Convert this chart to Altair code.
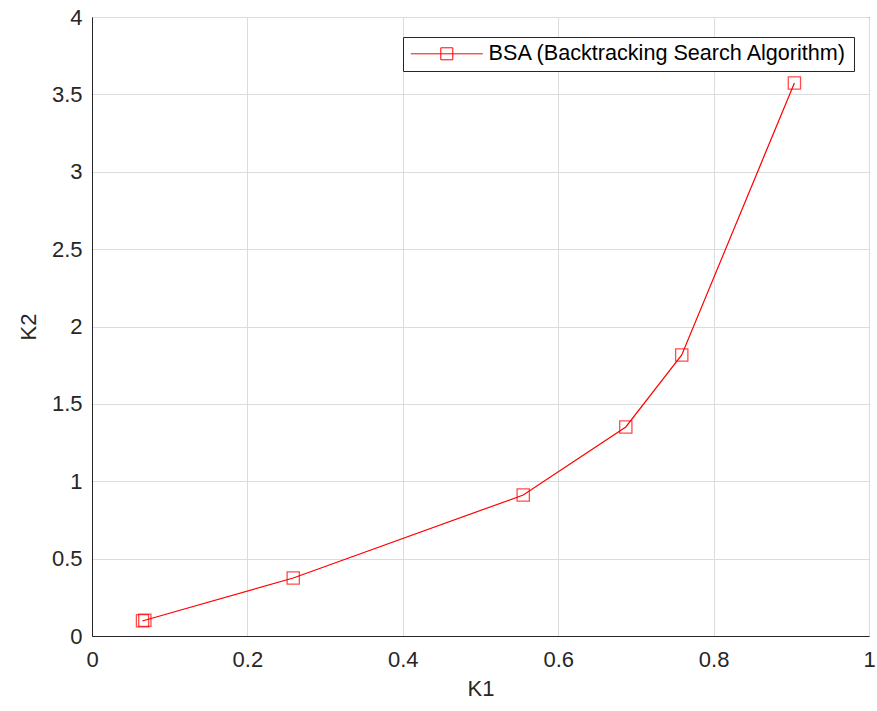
import altair as alt
import pandas as pd

series_name = "BSA (Backtracking Search Algorithm)"
k1 = [0.065, 0.068, 0.259, 0.555, 0.687, 0.759, 0.904]
k2 = [0.098, 0.102, 0.375, 0.911, 1.351, 1.816, 3.574]
x_ticks = [0, 0.2, 0.4, 0.6, 0.8, 1]
y_ticks = [0, 0.5, 1, 1.5, 2, 2.5, 3, 3.5, 4]

df = pd.DataFrame({"K1": k1, "K2": k2, "series": [series_name] * len(k1)})

FONT = "Liberation Sans"
DARK = "#262626"
RED = "#ff0000"

x = alt.X("K1:Q", title="K1", scale=alt.Scale(domain=[0, 1], nice=False, zero=False),
          axis=alt.Axis(values=x_ticks, format="~g", labelFlush=False))
y = alt.Y("K2:Q", title="K2", scale=alt.Scale(domain=[0, 4], nice=False, zero=False),
          axis=alt.Axis(values=y_ticks, format="~g", labelFlush=False))
color = alt.Color("series:N", scale=alt.Scale(domain=[series_name], range=[RED]),
                  legend=alt.Legend(title=None, orient="none", legendX=311, legendY=20,
                                    symbolType="M-3.6,0H3.6M-0.6,-0.6H0.6V0.6H-0.6Z",
                                    symbolSize=400, symbolStrokeWidth=1,
                                    symbolOffset=27, labelOffset=31, labelLimit=500,
                                    labelFont=FONT, labelFontSize=21.6, labelColor="#000000",
                                    fillColor="#ffffff", strokeColor=DARK,
                                    padding=6))

line = alt.Chart(df).mark_line(strokeWidth=1.2).encode(x=x, y=y, color=color, order="K1:Q")
pts = alt.Chart(df).mark_point(shape="square", filled=False, size=150, strokeWidth=1.3).encode(
    x=x, y=y, color=alt.Color("series:N", scale=alt.Scale(domain=[series_name], range=[RED]), legend=None))

chart = (line + pts).properties(
    width=777, height=619,
    autosize=alt.AutoSizeParams(type="none"),
    padding={"left": 92, "top": 17, "right": 8, "bottom": 75},
).configure_view(stroke=DARK, strokeWidth=1).configure_axis(
    grid=True, gridColor="#dcdcdc", gridWidth=1,
    domainColor=DARK, tickColor=DARK, ticks=False,
    labelFont=FONT, labelFontSize=22, labelColor=DARK,
    titleFont=FONT, titleFontSize=22, titleColor=DARK, titleFontWeight="normal",
).configure_axisX(labelPadding=13, titlePadding=8).configure_axisY(labelPadding=10, titlePadding=11)

chart.save("out.html", embed_options={"renderer": "svg", "actions": False})
